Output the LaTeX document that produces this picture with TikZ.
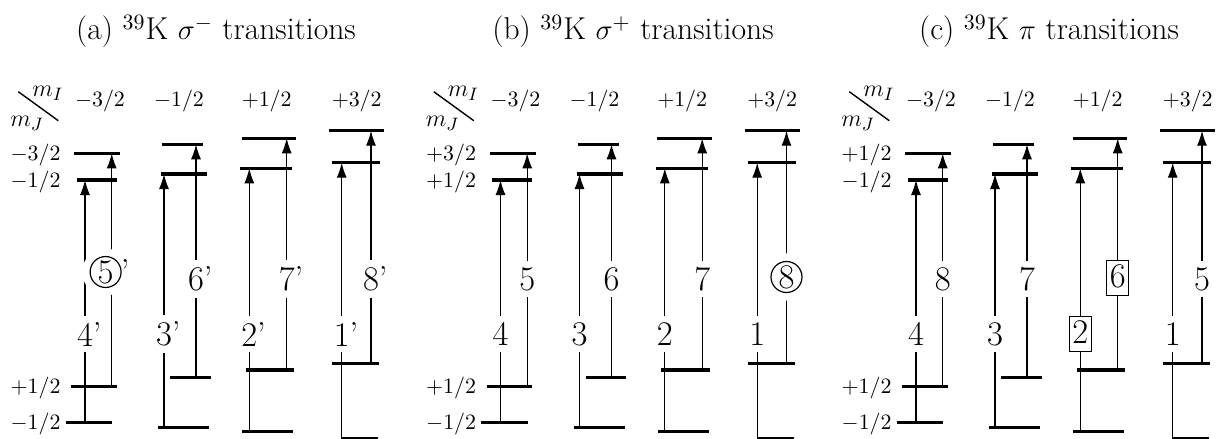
\documentclass[tikz,border=0pt]{standalone}
\usetikzlibrary{arrows.meta}
\begin{document}
\begin{tikzpicture}[x=0.5pt,y=-0.5pt,
  lvl/.style={line width=1.6pt},
  trans/.style={line width=0.6pt,-{Latex[length=7.5pt,width=5pt]}},
  tlab/.style={fill=white,inner sep=3.2pt,font=\fontsize{17.3}{20}\selectfont},
  boxd/.style={fill=white,draw,line width=0.6pt,inner xsep=1.6pt,inner ysep=1.2pt,text height=12.4pt,text depth=3pt,font=\fontsize{17.3}{20}\selectfont},
  circ/.style={draw,circle,fill=white,line width=0.6pt,inner sep=0.5pt,font=\fontsize{17.3}{20}\selectfont,preaction={draw=white,line width=8pt}},
  sml/.style={inner sep=0pt,font=\fontsize{11}{13}\selectfont},
  mlab/.style={inner sep=0pt,font=\fontsize{12.6}{14}\selectfont},
  ttl/.style={inner sep=0pt,anchor=base,font=\fontsize{15.8}{18}\selectfont}]
\useasboundingbox (0,0) rectangle (1222,439);
\def\XA{{85,164,249.3,341.7}}
\def\XB{{111.7,196,286.7,371}}
\def\YU{{153.3,144.3,138.3,130.7}}\def\UL{{74,162,241.7,329.3}}\def\UR{{120,203,296,384}}
\def\YV{{180,174,168.3,162.7}}\def\VL{{76.7,161,240,332.3}}\def\VR{{116.7,207,292,380}}
\def\YL{{386.7,377.7,370,363.3}}\def\LL{{71,170,245.7,332.3}}\def\LR{{116.7,210.7,294.3,379}}
\def\YM{{422.7,427.3,431.7,438.6}}\def\ML{{65.7,158,242.3,341.2}}\def\MR{{112.3,209,293.3,378}}
% titles
\node[ttl] (ta) at (216,39.5) {(a) $^{39}$K $\sigma^-$ transitions};
\node[ttl] (tb) at (633,39.5) {(b) $^{39}$K $\sigma^+$ transitions};
\node[ttl] (tc) at (1049,39.5) {(c) $^{39}$K $\pi$ transitions};
\foreach \p/\ox/\ua/\ub in {a/0/{-3}/{-1},b/415.5/{+3}/{+1},c/831/{+1}/{-1}}{
  % header
  \node[mlab,anchor=base west] (\p mi) at (32+\ox,96.7) {$m_I$};
  \node[mlab,anchor=base west] (\p mj) at (10+\ox,126.7) {$m_J$};
  \draw[line width=0.7pt] (18.3+\ox,91.7) -- (58.3+\ox,120.7);
  \foreach \hx/\hs/\hn [count=\hi] in {100/-/3,179/-/1,266.7/+/1,356.7/+/3}{
    \node[sml,anchor=base] (\p h\hi) at (\hx+\ox,106) {$\hs\hn/2$};
  }
  % left labels
  \node[sml,anchor=base east] (\p y1) at (61+\ox,160.3) {$\ua/2$};
  \node[sml,anchor=base east] (\p y2) at (61+\ox,187) {$\ub/2$};
  \node[sml,anchor=base east] (\p y3) at (61+\ox,393.7) {$+1/2$};
  \node[sml,anchor=base east] (\p y4) at (61+\ox,429.7) {$-1/2$};
  % columns
  \foreach \k in {0,1,2,3}{
    \pgfmathsetmacro\xa{\XA[\k]+\ox}
    \pgfmathsetmacro\xb{\XB[\k]+\ox}
    \pgfmathsetmacro\yu{\YU[\k]}\pgfmathsetmacro\ula{\UL[\k]+\ox}\pgfmathsetmacro\ura{\UR[\k]+\ox}
    \pgfmathsetmacro\yv{\YV[\k]}\pgfmathsetmacro\vla{\VL[\k]+\ox}\pgfmathsetmacro\vra{\VR[\k]+\ox}
    \pgfmathsetmacro\yl{\YL[\k]}\pgfmathsetmacro\lla{\LL[\k]+\ox}\pgfmathsetmacro\lra{\LR[\k]+\ox}
    \pgfmathsetmacro\ym{\YM[\k]}\pgfmathsetmacro\mla{\ML[\k]+\ox}\pgfmathsetmacro\mra{\MR[\k]+\ox}
    \draw[lvl] (\ula,\yu) -- (\ura,\yu);
    \draw[lvl] (\vla,\yv) -- (\vra,\yv);
    \draw[lvl] (\lla,\yl) -- (\lra,\yl);
    \draw[lvl] (\mla,\ym) -- (\mra,\ym);
    \coordinate (\p\k A0) at (\xa,\ym);
    \coordinate (\p\k A1) at (\xa,\yv);
    \coordinate (\p\k B0) at (\xb,\yl);
    \coordinate (\p\k B1) at (\xb,\yu);
    \draw[trans] (\p\k A0) -- (\p\k A1);
    \draw[trans] (\p\k B0) -- (\p\k B1);
  }
}
% transition labels on the A arrows
\foreach \p/\ox/\k/\st/\tx in {a/0/0/tlab/4\rlap{’},a/0/1/tlab/3\rlap{’},a/0/2/tlab/2\rlap{’},a/0/3/tlab/1\rlap{’},
  b/415.5/0/tlab/4,b/415.5/1/tlab/3,b/415.5/2/tlab/2,b/415.5/3/tlab/1,
  c/831/0/tlab/4,c/831/1/tlab/3,c/831/2/boxd/2,c/831/3/tlab/1}{
  \pgfmathsetmacro\xa{\XA[\k]+\ox}
  \node[\st] (\p\k LA) at (\xa,334) {\tx};
}
% transition labels on the B arrows
\foreach \p/\ox/\k/\st/\tx/\yy in {a/0/1/tlab/6\rlap{’}/279,a/0/2/tlab/7\rlap{’}/279,a/0/3/tlab/8\rlap{’}/279,
  b/415.5/0/tlab/5/279,b/415.5/1/tlab/6/279,b/415.5/2/tlab/7/279,b/415.5/3/circ/8/277,
  c/831/0/tlab/8/279,c/831/1/tlab/7/279,c/831/2/boxd/6/278,c/831/3/tlab/5/279}{
  \pgfmathsetmacro\xb{\XB[\k]+\ox}
  \node[\st] (\p\k LB) at (\xb,\yy) {\tx};
}
\node[circ] (a0LB) at (105.6,272) {5};
\node[inner sep=0pt,anchor=base west,font=\fontsize{17.3}{20}\selectfont] (a0LBp) at ([xshift=-0.6pt]a0LB.east |- a0LB.base) {’};
\end{tikzpicture}
\end{document}
